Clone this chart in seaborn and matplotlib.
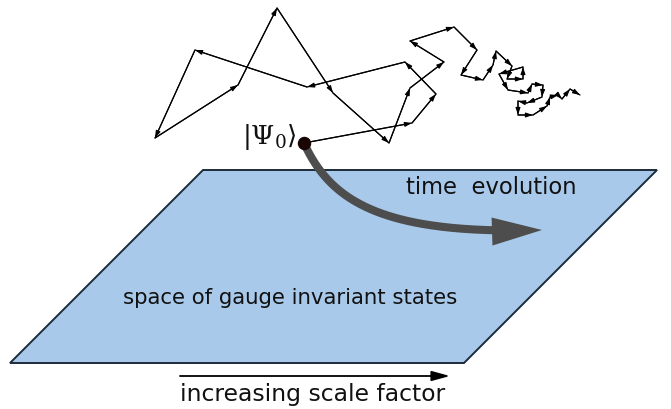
import matplotlib
matplotlib.use("Agg")
import matplotlib.pyplot as plt
from matplotlib.patches import Polygon
import numpy as np
import pandas as pd
import seaborn as sns

# plane of gauge invariant states (pixel coordinates, y down)
plane_x = [203, 657, 464, 10]
plane_y = [170, 170, 363, 363]

# random walk starting at |Psi_0>
walk_x = [304, 412, 436, 405, 307, 195, 155, 238, 277, 333, 389, 410, 444, 410,
          454, 477, 461, 483, 493, 496, 512, 507, 523, 523, 499, 508, 528, 532,
          543, 542, 527, 518, 518, 533, 547, 550, 558, 562, 570, 580]
walk_y = [143, 123, 94, 62, 87, 50, 138, 85, 8, 93, 143, 88, 62, 41,
          27, 50, 75, 80, 65, 51, 66, 79, 79, 67, 74, 90, 93, 84,
          85, 97, 103, 101, 115, 115, 106, 97, 95, 99, 89, 95]

# time evolution curve (cubic bezier control points)
evo_x = [304, 330, 380, 542]
evo_y = [143, 200, 235, 230]

labels = {
    "time": "time  evolution",
    "plane": "space of gauge invariant states",
    "scale": "increasing scale factor",
    "state": r"$|\Psi_0\rangle$",
}

sns.set_style("white")
plt.rcParams["font.family"] = ["DejaVu Sans"]
plt.rcParams["mathtext.fontset"] = "dejavuserif"

fig = plt.figure(figsize=(6.71, 4.09), dpi=100)
ax = fig.add_axes([0, 0, 1, 1])
ax.set_xlim(0, 671)
ax.set_ylim(409, 0)
ax.axis("off")

ax.add_patch(Polygon(np.column_stack([plane_x, plane_y]), closed=True,
                     facecolor="#a8c9ea", edgecolor="#1c2b3a", lw=1.4, zorder=1))

walk = pd.DataFrame({"x": walk_x, "y": walk_y})
sns.lineplot(data=walk, x="x", y="y", sort=False, estimator=None,
             color="black", lw=0.9, ax=ax, zorder=3)
for i in range(len(walk) - 1):
    ax.annotate("", xy=(walk_x[i + 1], walk_y[i + 1]), xytext=(walk_x[i], walk_y[i]),
                arrowprops=dict(arrowstyle="-|>,head_length=0.6,head_width=0.2",
                                color="black", lw=0.8, mutation_scale=7,
                                shrinkA=0, shrinkB=0), zorder=3)

# time evolution: bezier shaft + sharp head
p = np.column_stack([evo_x, evo_y]).astype(float)
t = np.linspace(0, 1, 200)[:, None]
curve = ((1 - t) ** 3 * p[0] + 3 * (1 - t) ** 2 * t * p[1]
         + 3 * (1 - t) * t ** 2 * p[2] + t ** 3 * p[3])
tip = p[3]
d = (p[3] - p[2]) / np.linalg.norm(p[3] - p[2])
n = np.array([-d[1], d[0]])
head_len, head_half = 50, 14
base = tip - head_len * d
shaft = curve[curve[:, 0] <= base[0] + 3]
ax.plot(shaft[:, 0], shaft[:, 1], color="#4d4d4d", lw=5.8,
        solid_capstyle="butt", zorder=4)
ax.add_patch(Polygon([tip, base + head_half * n, base - head_half * n],
                     closed=True, facecolor="#4d4d4d", edgecolor="none", zorder=4))

ax.scatter([walk_x[0]], [walk_y[0]], s=75, color="#1a0505", zorder=5)

ax.annotate("", xy=(450, 376), xytext=(180, 376),
            arrowprops=dict(arrowstyle="-|>,head_length=1.1,head_width=0.3",
                            color="black", lw=1.3, mutation_scale=10,
                            shrinkA=0, shrinkB=0))

ax.text(491, 188, labels["time"], fontsize=16.3, color="#111111",
        ha="center", va="center")
ax.text(290, 298, labels["plane"], fontsize=15.3, color="#111111",
        ha="center", va="center")
ax.text(313, 394, labels["scale"], fontsize=16.9, color="#111111",
        ha="center", va="center")
ax.text(297, 144, labels["state"], fontsize=19, color="#111111",
        ha="right", va="baseline")

fig.savefig("out.png", dpi=100)
